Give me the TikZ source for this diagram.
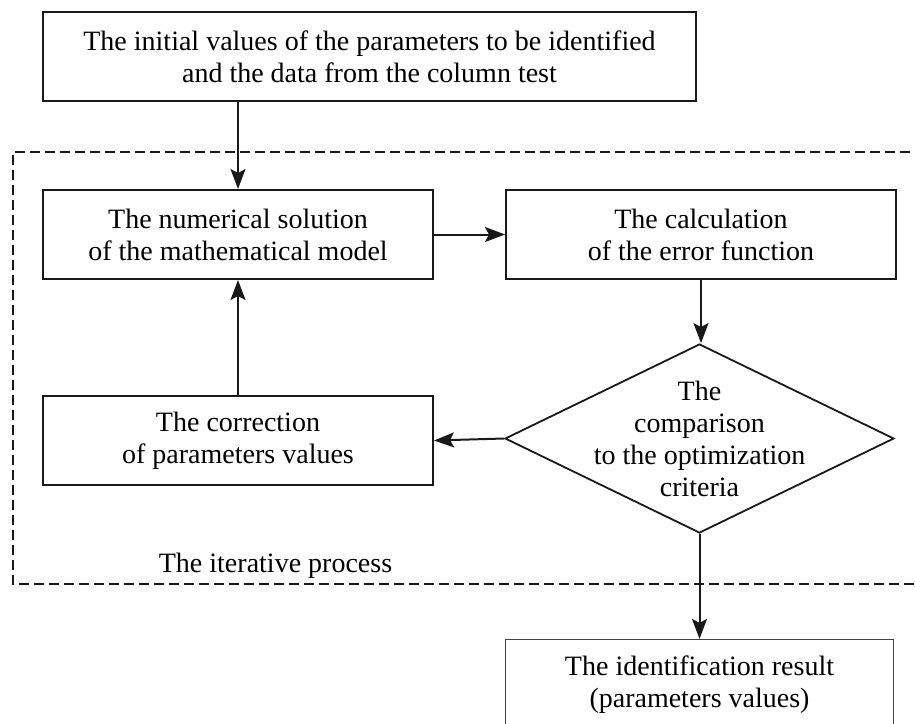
\documentclass[tikz,border=0pt]{standalone}
\usepackage{fontspec}
\setmainfont{Liberation Serif}
\usepackage{tikz}
\usetikzlibrary{shapes.geometric,arrows.meta,positioning}

\begin{document}
\begin{tikzpicture}[
        x=1pt, y=-1pt,
        font=\fontsize{28}{32}\selectfont,
        block/.style={rectangle, draw=black!90, line width=2pt, minimum width=390pt, minimum height=89pt, align=center, inner sep=0pt},
        decision/.style={diamond, draw=black!90, line width=1.8pt, minimum width=389pt, minimum height=189pt, inner sep=0pt},
        result/.style={rectangle, draw=black!75, line width=1.1pt, minimum width=388pt, minimum height=90pt, align=center, inner sep=0pt},
        iterframe/.style={draw=black!90, line width=2pt, dash pattern=on 10pt off 5pt},
        arrow/.style={-{Stealth[length=20pt, width=15pt, inset=4pt]}, line width=2pt, draw=black!90}
    ]
        \useasboundingbox (0,0) rectangle (915,723);

        % Input
        \node[block, minimum width=653pt] (init) at (369.5,56.5) {The initial values of the parameters to be identified\\and the data from the column test};

        % Iterative loop
        \node[block] (num) at (238,234.5) {The numerical solution\\of the mathematical model};
        \node[block, right=71pt of num] (calc) {The calculation\\of the error function};
        \node[block, below=115pt of num] (corr) {The correction\\of parameters values};
        \node[decision] (cmp) at (699.5,438.5) {};
        \node[align=center] (cmptext) at (cmp.center) {The\\comparison\\to the optimization\\criteria};

        % Output
        \node[result, below=105pt of cmp] (res) {The identification result\\(parameters values)};

        % Iteration frame
        \coordinate (frameTL) at (13,152);
        \coordinate (frameTR) at (940,152);
        \coordinate (frameBL) at (13,584);
        \coordinate (frameBR) at (940,584);
        \draw[iterframe] (frameTR) -- (frameTL) -- (frameBL) -- (frameBR);
        \node[anchor=base] (iterlabel) at (275.5,572) {The iterative process};

        % Connections
        \draw[arrow] (init.south -| num.north) -- (num.north);
        \draw[arrow] (num.east) -- (calc.west);
        \draw[arrow] (calc.south) -- (calc.south |- cmp.north);
        \draw[arrow] (cmp.west) -- (corr.east);
        \draw[arrow] (corr.north) -- (num.south);
        \draw[arrow] (cmp.south) -- (res.north);
    \end{tikzpicture}
\end{document}
